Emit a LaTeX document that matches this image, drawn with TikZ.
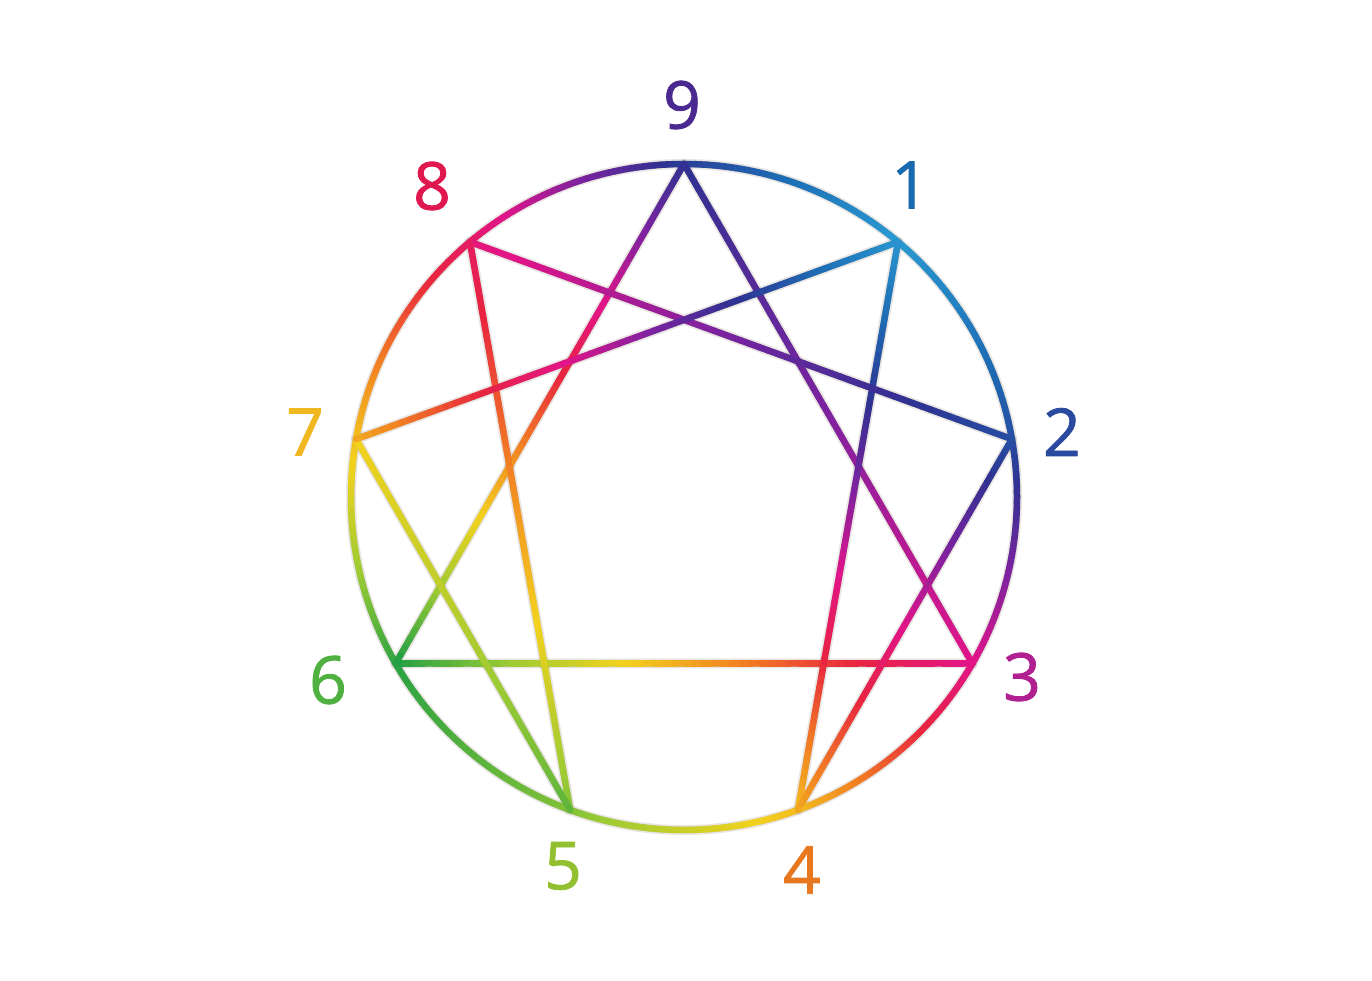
\documentclass[tikz,border=0pt]{standalone}
\usepackage{fontspec}
\setmainfont{Open Sans}
\newfontfamily\labfont[FakeBold=1.2]{Open Sans}
\usetikzlibrary{calc}
\definecolor{st0}{HTML}{1E9E45}
\definecolor{st1}{HTML}{9CCB34}
\definecolor{st2}{HTML}{F2D21E}
\definecolor{st3}{HTML}{F28222}
\definecolor{st4}{HTML}{E8253F}
\definecolor{st5}{HTML}{E21489}
\definecolor{st6}{HTML}{7E22A0}
\definecolor{st7}{HTML}{2E3292}
\definecolor{st8}{HTML}{1E6DB5}
\definecolor{st9}{HTML}{2A9AD2}
\definecolor{lab9}{HTML}{4A2A90}
\definecolor{lab1}{HTML}{1A6AB0}
\definecolor{lab2}{HTML}{2A4AA0}
\definecolor{lab3}{HTML}{B02090}
\definecolor{lab4}{HTML}{E87820}
\definecolor{lab5}{HTML}{92C030}
\definecolor{lab6}{HTML}{50B040}
\definecolor{lab7}{HTML}{F0B820}
\definecolor{lab8}{HTML}{E01850}
\newcommand\gradcol[1]{%
  \pgfmathsetmacro\gT{#1}%
  \pgfmathtruncatemacro\gK{min(floor(\gT),8)}%
  \pgfmathtruncatemacro\gN{\gK+1}%
  \pgfmathtruncatemacro\gP{round(100*(1-(\gT-\gK)))}%
  \colorlet{gc}{st\gK!\gP!st\gN}}
\newcommand\gline[4]{%
  \foreach \i in {0,...,59}{%
    \pgfmathsetmacro\gA{\i/60}%
    \pgfmathsetmacro\gB{(\i+1)/60}%
    \gradcol{#3+(#4-#3)*(\i+0.5)/60}%
    \draw[edge,gc] ($(#1)!\gA!(#2)$) -- ($(#1)!\gB!(#2)$);
  }}
\newcommand\garc[4]{%
  \foreach \i in {0,...,39}{%
    \pgfmathsetmacro\gA{#1+(#2-#1)*\i/40}%
    \pgfmathsetmacro\gB{#1+(#2-#1)*(\i+1)/40}%
    \gradcol{#3+(#4-#3)*(\i+0.5)/40}%
    \draw[edge,gc] ($(c)+(\gA:333pt)$) arc[start angle=\gA, end angle=\gB, radius=333pt];
  }}
\tikzset{
  edge/.style={line width=6.5pt, line cap=round},
  shade1/.style={line width=10pt, black!60!brown, opacity=0.12, line join=round},
  shade2/.style={line width=6.5pt, black!60!brown, opacity=0.22, line join=round},
  lab/.style={inner sep=0pt, font=\labfont\fontsize{66}{70}\selectfont}
}
\begin{document}
\begin{tikzpicture}[x=1pt,y=1pt]
\fill[white] (0,0) rectangle (1372,980);
\useasboundingbox (0,0) rectangle (1372,980);
\coordinate (c) at (684,483);
\coordinate (p9) at ($(c)+(90:333pt)$);
\coordinate (p1) at ($(c)+(50:333pt)$);
\coordinate (p2) at ($(c)+(10:333pt)$);
\coordinate (p3) at ($(c)+(-30:333pt)$);
\coordinate (p4) at ($(c)+(-70:333pt)$);
\coordinate (p5) at ($(c)+(-110:333pt)$);
\coordinate (p6) at ($(c)+(-150:333pt)$);
\coordinate (p7) at ($(c)+(170:333pt)$);
\coordinate (p8) at ($(c)+(130:333pt)$);
% shadows
\begin{scope}[shift={(3.5,-4.5)}]
  \foreach \s in {shade1,shade2}{
    \draw[\s] (c) circle[radius=333pt];
    \draw[\s] (p9) -- (p3) -- (p6) -- cycle;
    \draw[\s] (p1) -- (p4) -- (p2) -- (p8) -- (p5) -- (p7) -- cycle;
  }
\end{scope}
% circle
\garc{90}{50}{7.2}{9}
\garc{50}{10}{9}{7.5}
\garc{10}{-30}{7.5}{5}
\garc{-30}{-70}{5}{2.3}
\garc{-70}{-110}{2.3}{0.8}
\garc{-110}{-150}{0.8}{0.1}
\garc{-150}{-190}{0.1}{2.2}
\garc{170}{130}{2.2}{4.5}
\garc{130}{90}{4.5}{7.2}
% triangle
\gline{p9}{p3}{7}{5}
\gline{p9}{p6}{7}{0}
\gline{p6}{p3}{0}{5}
% hexad
\gline{p1}{p4}{8.9}{2.3}
\gline{p4}{p2}{2.5}{7.5}
\gline{p2}{p8}{7.5}{4.8}
\gline{p8}{p5}{4.5}{0.8}
\gline{p5}{p7}{0.5}{2}
\gline{p7}{p1}{2.5}{8.9}
% labels
\node[lab, text=lab9] (n9) at (682,875) {9};
\node[lab, text=lab1] (n1) at (910,795) {1};
\node[lab, text=lab2] (n2) at (1062,548) {2};
\node[lab, text=lab3] (n3) at (1022,303) {3};
\node[lab, text=lab4] (n4) at (802,110) {4};
\node[lab, text=lab5] (n5) at (563,114) {5};
\node[lab, text=lab6] (n6) at (328,300) {6};
\node[lab, text=lab7] (n7) at (305,548) {7};
\node[lab, text=lab8] (n8) at (432,794) {8};
\end{tikzpicture}
\end{document}
